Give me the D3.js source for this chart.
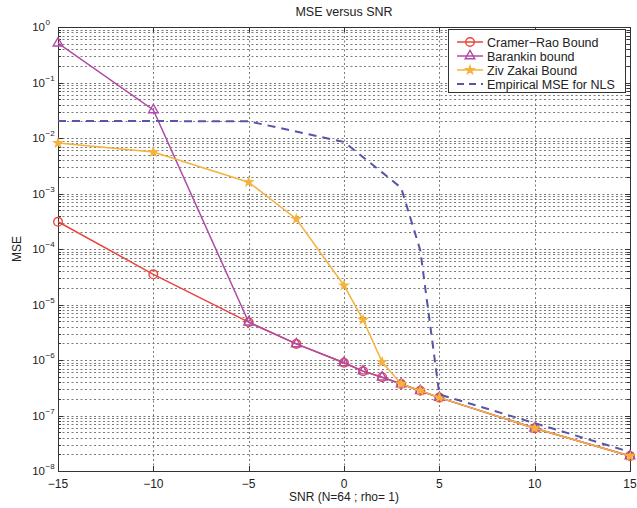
<!DOCTYPE html>
<html><head><meta charset="utf-8">
<script src="https://cdn.jsdelivr.net/npm/d3@7"></script>
<style>
body{margin:0;background:#fff;}
text{font-family:"Liberation Sans",Arial,sans-serif;fill:#222;}
</style></head>
<body><svg id="c" width="637" height="508"></svg>
<script>
const snr = [-15,-10,-5,-2.5,0,1,2,3,4,5,10,15];
const crb = [3.1e-4,3.5e-5,4.8e-6,1.95e-6,8.9e-7,6.3e-7,4.9e-7,3.7e-7,2.8e-7,2.1e-7,5.9e-8,1.86e-8];
const barankin = [0.51,0.032,4.8e-6,1.95e-6,8.9e-7,6.3e-7,4.9e-7,3.7e-7,2.8e-7,2.1e-7,5.9e-8,1.86e-8];
const zzb = [8.1e-3,5.6e-3,1.6e-3,3.47e-4,2.2e-5,5.3e-6,9.2e-7,3.7e-7,2.8e-7,2.1e-7,5.9e-8,1.86e-8];
const empSnr = [-15,-10,-5,0,1,2,3,4,5,10,15];
const emp = [0.0202,0.0202,0.0200,8.5e-3,4.5e-3,2.4e-3,1.26e-3,9.5e-5,2.4e-7,7.3e-8,2.2e-8];
const xTicks = [-15,-10,-5,0,5,10,15];
const yExps = [0,-1,-2,-3,-4,-5,-6,-7,-8];
const names = ["Cramer\u2212Rao Bound","Barankin bound","Ziv Zakai Bound","Empirical MSE for NLS"];
const colors = ["#e8453c","#b04aa6","#f4b23c","#5656a8"];

const svg = d3.select("#c");
const L=58,R=630,T=27,B=471;
const x = d3.scaleLinear().domain([-15,15]).range([L,R]);
const y = d3.scaleLog().domain([1e-8,1]).range([B,T]);

const grid = svg.append("g").attr("stroke","#7a7a7a").attr("stroke-width",1).attr("stroke-dasharray","2,2.5").attr("fill","none");
const yAll = [];
for(let e=-8;e<0;e++){for(let m=1;m<10;m++){yAll.push(m*Math.pow(10,e));}}
yAll.push(1);
yAll.forEach(v=>{const yy=Math.round(y(v))+0.5; if(yy>T+1&&yy<B-1) grid.append("line").attr("x1",L).attr("x2",R).attr("y1",yy).attr("y2",yy);});
xTicks.forEach(v=>{const xx=Math.round(x(v))+0.5; if(xx>L+1&&xx<R-1) grid.append("line").attr("x1",xx).attr("x2",xx).attr("y1",T).attr("y2",B);});

svg.append("rect").attr("x",L+0.5).attr("y",T+0.5).attr("width",R-L).attr("height",B-T).attr("fill","none").attr("stroke","#333").attr("stroke-width",1);
const tk = svg.append("g").attr("stroke","#333").attr("stroke-width",1);
xTicks.forEach(v=>{const xx=Math.round(x(v))+0.5;
  tk.append("line").attr("x1",xx).attr("x2",xx).attr("y1",B).attr("y2",B-5);
  tk.append("line").attr("x1",xx).attr("x2",xx).attr("y1",T).attr("y2",T+5);});
yAll.forEach(v=>{const yy=Math.round(y(v))+0.5; const isMaj=Math.abs(Math.log10(v)-Math.round(Math.log10(v)))<1e-9; const len=isMaj?5:3;
  tk.append("line").attr("x1",L).attr("x2",L+len).attr("y1",yy).attr("y2",yy);
  tk.append("line").attr("x1",R).attr("x2",R-len).attr("y1",yy).attr("y2",yy);});

xTicks.forEach(v=>{svg.append("text").attr("x",x(v)).attr("y",B+17).attr("text-anchor","middle").attr("font-size",12).text(v<0?"\u2212"+Math.abs(v):v);});
yExps.forEach(e=>{svg.append("text").attr("x",L-13).attr("y",y(Math.pow(10,e))+4).attr("text-anchor","end").attr("font-size",11.5).text("10");
  svg.append("text").attr("x",L-12.5).attr("y",y(Math.pow(10,e))-2).attr("text-anchor","start").attr("font-size",8).text(e===0?"0":"\u2212"+Math.abs(e));});

svg.append("text").attr("x",(L+R)/2).attr("y",16).attr("text-anchor","middle").attr("font-size",12.5).text("MSE versus SNR");
svg.append("text").attr("x",(L+R)/2).attr("y",501).attr("text-anchor","middle").attr("font-size",12).text("SNR (N=64 ; rho= 1)");
svg.append("text").attr("transform","translate(21,249) rotate(-90)").attr("text-anchor","middle").attr("font-size",12).text("MSE");

const line = d3.line().x(d=>x(d[0])).y(d=>y(d[1]));
const plot = svg.append("g");
function marker(g,kind,cx,cy){
  if(kind===0) g.append("circle").attr("cx",cx).attr("cy",cy).attr("r",4.3).attr("fill","none").attr("stroke",colors[0]).attr("stroke-width",1.4);
  else if(kind===1) g.append("path").attr("d",d3.symbol(d3.symbolTriangle,40)()).attr("transform",`translate(${cx},${cy})`).attr("fill","none").attr("stroke",colors[1]).attr("stroke-width",1.4);
  else if(kind===2) g.append("path").attr("d",d3.symbol(d3.symbolStar,22)()).attr("transform",`translate(${cx},${cy})`).attr("fill",colors[2]).attr("stroke",colors[2]).attr("stroke-width",1.2);
}
const series = [crb,barankin,zzb];
series.forEach((s,i)=>{
  const pts = snr.map((v,j)=>[v,s[j]]);
  plot.append("path").attr("d",line(pts)).attr("fill","none").attr("stroke",colors[i]).attr("stroke-width",1.5);
  pts.forEach(p=>marker(plot,i,x(p[0]),y(p[1])));
});
plot.append("path").attr("d",line(empSnr.map((v,j)=>[v,emp[j]]))).attr("fill","none").attr("stroke",colors[3]).attr("stroke-width",2).attr("stroke-dasharray","8,6");

const lg = svg.append("g");
lg.append("rect").attr("x",448.5).attr("y",29.5).attr("width",177).attr("height",63).attr("fill","#fff").attr("stroke","#333").attr("stroke-width",1);
names.forEach((n,i)=>{const yy=42+i*14;
  const l=lg.append("line").attr("x1",457).attr("x2",483).attr("y1",yy).attr("y2",yy).attr("stroke",colors[i]).attr("stroke-width",i===3?2:1.5);
  if(i===3) l.attr("stroke-dasharray","7,5");
  marker(lg,i,470,yy);
  lg.append("text").attr("x",487).attr("y",yy+4.5).attr("font-size",12.5).text(n);
});
</script></body></html>
